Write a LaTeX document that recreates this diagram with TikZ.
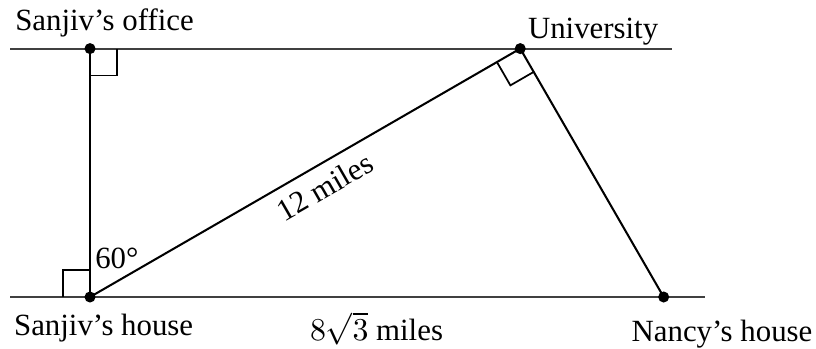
\documentclass[tikz,border=0pt]{standalone}
\usepackage{fontspec}
\setmainfont{Liberation Serif}
\usetikzlibrary{calc}

\begin{document}
\begin{tikzpicture}[
  x=0.5cm, y=0.5cm,
  font=\fontsize{10.6}{12}\selectfont,
  road/.style={line width=0.75pt, black!75},
  leg/.style={line width=0.7pt},
  rtmark/.style={line width=0.6pt},
  spot/.style={circle, fill, inner sep=0pt, minimum size=3.8pt},
  place/.style={anchor=base, inner sep=0pt}
]
\useasboundingbox (-2.174,-1.232) rectangle (17.536,7.174);

% points
\coordinate (house)  at (0,0);
\coordinate (office) at (0,6);
\coordinate (uni)    at (10.392,6);
\coordinate (nancy)  at (13.856,0);
\coordinate (topL) at (-1.93,6);
\coordinate (topR) at (14.06,6);
\coordinate (botL) at (-1.93,0);
\coordinate (botR) at (14.86,0);

% roads
\draw[road] (topL) -- (topR);
\draw[road] (botL) -- (botR);

% legs
\draw[leg] (house) -- (office);
\draw[leg] (house) -- node[pos=0.52, sloped, below=2.5pt, inner sep=1pt] (dist) {12 miles} (uni);
\draw[leg] (uni) -- (nancy);

% right angles
\draw[rtmark] ($(office)+(0,-0.65)$) -- ++(0.65,0) -- ++(0,0.65);
\draw[rtmark] ($(house)+(-0.65,0)$) -- ++(0,0.65) -- ++(0.65,0);
\draw[rtmark] ($(uni)!0.325cm!(house)$) coordinate (ua)
  -- ($(ua)+($(uni)!0.325cm!(nancy)$)-(uni)$) coordinate (ub)
  -- ($(uni)!0.325cm!(nancy)$);

% dots
\node[spot] (s1) at (house) {};
\node[spot] (s2) at (office) {};
\node[spot] (s3) at (uni) {};
\node[spot] (s4) at (nancy) {};

% labels
\node[place] (lboffice) at ($(office)+(0.35,0.435)$) {Sanjiv’s office};
\node[place] (lbuni)    at ($(uni)+(1.76,0.24)$) {University};
\node[place] (lbhouse)  at ($(house)+(0.33,-0.92)$) {Sanjiv’s house};
\node[place] (lbnancy)  at ($(nancy)+(1.41,-1.08)$) {Nancy’s house};
\node[place] (lbbase)   at ($(house)+(6.92,-1.06)$) {$8\sqrt{3}$ miles};
\node[place] (lbangle)  at ($(house)+(0.65,0.68)$) {60°};
\end{tikzpicture}
\end{document}
